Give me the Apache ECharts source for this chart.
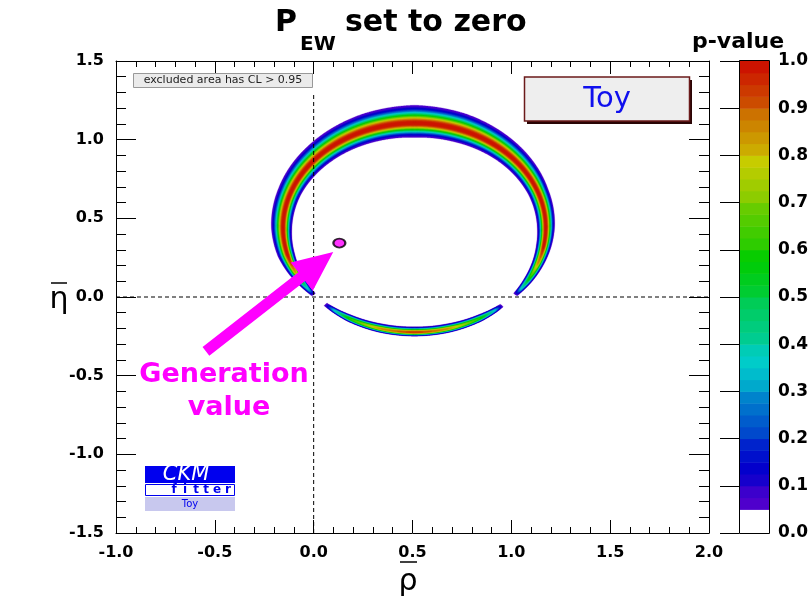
<!DOCTYPE html>
<html><head><meta charset="utf-8">
<script src="https://cdn.jsdelivr.net/npm/echarts@6/dist/echarts.min.js"></script>
<style>html,body{margin:0;padding:0;background:#fff}#c{width:812px;height:602px}</style>
</head><body><div id="c"></div>
<script>
// ---- data ----
const xTickRange = [-1.0, 2.0];
const yTickRange = [-1.5, 1.5];
const colorbarTicks = [0.0, 0.1, 0.2, 0.3, 0.4, 0.5, 0.6, 0.7, 0.8, 0.9, 1.0];
// contour levels of the p-value map (below 0.05 is excluded / white)
const pLevels = [0.050,0.075,0.100,0.125,0.150,0.175,0.200,0.225,0.250,0.275,0.300,0.325,0.350,0.375,0.400,0.425,0.450,0.475,0.500,
                 0.525,0.550,0.575,0.600,0.625,0.650,0.675,0.700,0.725,0.750,0.775,0.800,0.825,0.850,0.875,0.900,0.925,0.950,0.975];
// ring constraint: ridge circle (p = peak) and distances of the p=0.05 edge at several angles
const ringCenter = [0.51, 0.44];
const ringRadius = 0.664;
const ringAngle  = [-133,-128,-120,-105,-90,-75,-60,-52,-48,-44,-40,-36,-30,-20,-10,0,20,45,70,90,110,135,160,180,195,205,212,217,220,224,227];
const ringPeak   = [0.04,0.35,0.6,0.85,0.95,0.85,0.6,0.35,0.04,0,0.04,0.35,0.55,0.85,1,1,1,1,1,1,1,1,1,1,1,0.85,0.5,0.3,0.04,0,0.04];
const ringOuterW = [0.010,0.014,0.020,0.024,0.025,0.024,0.020,0.014,0.010,0.010,0.012,0.016,0.022,0.030,0.038,0.045,0.055,0.080,0.105,0.115,0.105,0.085,0.068,0.060,0.050,0.036,0.024,0.016,0.012,0.010,0.010];
const ringInnerW = [0.012,0.016,0.024,0.032,0.035,0.032,0.024,0.016,0.012,0.010,0.012,0.016,0.022,0.030,0.038,0.043,0.050,0.065,0.082,0.090,0.082,0.068,0.052,0.044,0.036,0.028,0.020,0.014,0.012,0.010,0.012];
const generationPoint = [0.13, 0.343];
const arrowTail = [-0.545, -0.346];
const arrowTip = [0.099, 0.286];

// ---- ROOT-like palette (style) ----
function hls(h) {
  const l = 0.4, s = 1;
  const c = (1 - Math.abs(2*l - 1)) * s, hp = h / 60, x = c * (1 - Math.abs(hp % 2 - 1));
  let r=0,g=0,b=0;
  if (hp < 1) {r=c;g=x;} else if (hp < 2) {r=x;g=c;} else if (hp < 3) {g=c;b=x;}
  else if (hp < 4) {g=x;b=c;} else if (hp < 5) {r=x;b=c;} else {r=c;b=x;}
  const m = l - c/2;
  const f = v => Math.round((v + m) * 255);
  return 'rgb(' + f(r) + ',' + f(g) + ',' + f(b) + ')';
}
const palette = [];
for (let i = 0; i < 50; i++) palette.push(hls(280 - (i + 1) * 5.6));
function bandColor(k) { return palette[Math.min(49, Math.floor(k * 1.25 + 0.01))]; } // band k: [0.025k, 0.025(k+1)]

function interp(arr, t) {
  for (let k = 0; k < ringAngle.length - 1; k++) {
    const a0 = ringAngle[k], a1 = ringAngle[k + 1];
    if (t >= a0 && t <= a1) { const u = (t - a0) / (a1 - a0); return arr[k] + u * (arr[k + 1] - arr[k]); }
  }
  return arr[arr.length - 1];
}
function ringPoint(api, th, d) {
  const r = ringRadius + d, rad = th * Math.PI / 180;
  return api.coord([ringCenter[0] + r * Math.cos(rad), ringCenter[1] + r * Math.sin(rad)]);
}

const chart = echarts.init(document.getElementById('c'), null, {renderer: 'canvas'});
const FONT = 'DejaVu Sans';
const tickLab = {color: '#000', fontFamily: FONT, fontWeight: 'bold', fontSize: 16};

function ringRender(params, api) {
  const L = api.value(0), idx = api.value(1);
  const color = bandColor(idx + 2);
  const step = 0.25;
  const t0 = ringAngle[0], t1 = ringAngle[ringAngle.length - 1];
  const children = [];
  let run = null, prevT = null, prevP = null;
  const makePoly = (run) => {
    const pts = [];
    run.forEach(r => pts.push(ringPoint(api, r[0], r[1])));
    for (let i = run.length - 1; i >= 0; i--) pts.push(ringPoint(api, run[i][0], -run[i][2]));
    return {type: 'polygon', shape: {points: pts}, style: {fill: color, stroke: color, lineWidth: 0.3}};
  };
  for (let t = t0; t <= t1 + 1e-9; t += step) {
    const P = interp(ringPeak, t);
    if (P > L) {
      if (!run) {
        run = [];
        if (prevT !== null) { const tc = prevT + (L - prevP) / (P - prevP) * (t - prevT); run.push([tc, 0, 0]); }
      }
      const f = Math.sqrt(Math.log(P / L) / Math.log(P / 0.05));
      run.push([t, f * interp(ringOuterW, t), f * interp(ringInnerW, t)]);
    } else if (run) {
      const tc = prevT + (prevP - L) / (prevP - P) * (t - prevT);
      run.push([tc, 0, 0]);
      children.push(makePoly(run));
      run = null;
    }
    prevT = t; prevP = P;
  }
  if (run) children.push(makePoly(run));
  return {type: 'group', children};
}

function arrowRender(params, api) {
  const a = api.coord([api.value(0), api.value(1)]);
  const b = api.coord([api.value(2), api.value(3)]);
  const dx = b[0] - a[0], dy = b[1] - a[1], len = Math.hypot(dx, dy);
  const ux = dx / len, uy = dy / len, nx = -uy, ny = ux;
  const hl = 40, hw = 18, sw = 5.5;
  const bx = b[0] - ux * hl, by = b[1] - uy * hl;
  const pts = [
    [a[0] + nx * sw, a[1] + ny * sw], [bx + nx * sw, by + ny * sw], [bx + nx * hw, by + ny * hw],
    b, [bx - nx * hw, by - ny * hw], [bx - nx * sw, by - ny * sw], [a[0] - nx * sw, a[1] - ny * sw]
  ];
  return {type: 'polygon', shape: {points: pts}, style: {fill: '#ff00ff'}};
}

function cbarRender(params, api) {
  const lo = api.value(0), hi = api.value(1), k = api.value(2);
  const p0 = api.coord([0, hi]), p1 = api.coord([1, lo]);
  return {type: 'rect', shape: {x: p0[0], y: p0[1], width: p1[0] - p0[0], height: p1[1] - p0[1] + 0.5},
          style: {fill: k === 0 ? '#ffffff' : bandColor(k), stroke: null}};
}

const cbarData = [[0, 0.05, 0]].concat(pLevels.map((l, i) => [l, i === pLevels.length - 1 ? 1.0 : pLevels[i + 1], i + 2]));

const axisCommon = {
  type: 'value', splitLine: {show: false},
  axisLine: {show: true, onZero: false, lineStyle: {color: '#000', width: 1}},
};

const option = {
  backgroundColor: '#fff',
  animation: false,
  grid: [
    {left: 116, right: 103, top: 61, bottom: 69},
    {left: 739, width: 30, top: 61, bottom: 69}
  ],
  xAxis: [
    Object.assign({}, axisCommon, {gridIndex: 0, position: 'bottom', min: xTickRange[0], max: xTickRange[1], interval: 0.5,
      axisTick: {inside: true, length: 13, lineStyle: {color: '#000'}},
      minorTick: {show: true, splitNumber: 5, length: 6, lineStyle: {color: '#000'}},
      axisLabel: Object.assign({margin: 12, formatter: v => v.toFixed(1)}, tickLab)}),
    Object.assign({}, axisCommon, {gridIndex: 0, position: 'top', min: xTickRange[0], max: xTickRange[1], interval: 0.5,
      axisTick: {inside: true, length: 13, lineStyle: {color: '#000'}},
      minorTick: {show: true, splitNumber: 5, length: 6, lineStyle: {color: '#000'}},
      axisLabel: {show: false}}),
    {type: 'value', gridIndex: 1, min: 0, max: 1, show: false}
  ],
  yAxis: [
    Object.assign({}, axisCommon, {gridIndex: 0, position: 'left', min: yTickRange[0], max: yTickRange[1], interval: 0.5,
      axisTick: {inside: true, length: 20, lineStyle: {color: '#000'}},
      minorTick: {show: true, splitNumber: 5, length: 10, lineStyle: {color: '#000'}},
      axisLabel: Object.assign({margin: 12, formatter: v => v.toFixed(1)}, tickLab)}),
    Object.assign({}, axisCommon, {gridIndex: 0, position: 'right', min: yTickRange[0], max: yTickRange[1], interval: 0.5,
      axisTick: {inside: true, length: 20, lineStyle: {color: '#000'}},
      minorTick: {show: true, splitNumber: 5, length: 10, lineStyle: {color: '#000'}},
      axisLabel: {show: false}}),
    {type: 'value', gridIndex: 1, position: 'right', min: colorbarTicks[0], max: colorbarTicks[colorbarTicks.length - 1], interval: 0.1,
      splitLine: {show: false},
      axisLine: {show: true, lineStyle: {color: '#000'}},
      axisTick: {show: true, inside: true, length: 19, lineStyle: {color: '#000'}},
      axisLabel: Object.assign({margin: 9, formatter: v => v.toFixed(1)}, tickLab, {fontSize: 17})}
  ],
  series: [
    {type: 'custom', xAxisIndex: 0, yAxisIndex: 0, z: 2, renderItem: ringRender,
     encode: {x: 0, y: -1}, data: pLevels.map((l, i) => [l, i]), silent: true},
    {type: 'line', xAxisIndex: 0, yAxisIndex: 0, z: 3, symbol: 'none', silent: true,
     lineStyle: {color: '#000', width: 1, type: [4, 3]}, data: [[0, -1.5], [0, 1.3]]},
    {type: 'line', xAxisIndex: 0, yAxisIndex: 0, z: 3, symbol: 'none', silent: true,
     lineStyle: {color: '#000', width: 1, type: [4, 3]}, data: [[-1, 0], [2, 0]]},
    {type: 'custom', xAxisIndex: 0, yAxisIndex: 0, z: 4, renderItem: arrowRender, silent: true,
     data: [[arrowTail[0], arrowTail[1], arrowTip[0], arrowTip[1]]]},
    {type: 'scatter', xAxisIndex: 0, yAxisIndex: 0, z: 5, symbol: 'circle', symbolSize: [12, 9], silent: true,
     itemStyle: {color: '#ff00ff', borderColor: '#000', borderWidth: 2}, data: [generationPoint]},
    {type: 'custom', xAxisIndex: 2, yAxisIndex: 2, z: 2, renderItem: cbarRender, silent: true,
     encode: {x: -1, y: 0}, data: cbarData}
  ],
  graphic: [
    {type: 'rect', z: 100, shape: {x: 739.5, y: 60.5, width: 30, height: 473}, style: {fill: null, stroke: '#000', lineWidth: 1}},
    // title
    {type: 'text', z: 100, style: {text: 'P', x: 275, y: 23, font: 'bold 30px "DejaVu Sans"', fill: '#000', textAlign: 'left', textVerticalAlign: 'middle'}},
    {type: 'text', z: 100, style: {text: 'EW', x: 300, y: 44.5, font: 'bold 20px "DejaVu Sans"', fill: '#000', textAlign: 'left', textVerticalAlign: 'middle'}},
    {type: 'text', z: 100, style: {text: 'set to zero', x: 345, y: 23, font: 'bold 30px "DejaVu Sans"', fill: '#000', textAlign: 'left', textVerticalAlign: 'middle'}},
    {type: 'text', z: 100, style: {text: 'p-value', x: 738, y: 42, font: 'bold 22px "DejaVu Sans"', fill: '#000', textAlign: 'center', textVerticalAlign: 'middle'}},
    // axis names
    {type: 'text', z: 100, style: {text: 'ρ', x: 408, y: 582, font: '30px "DejaVu Sans"', fill: '#000', textAlign: 'center', textVerticalAlign: 'middle'}},
    {type: 'line', z: 100, shape: {x1: 400, y1: 562, x2: 417, y2: 562}, style: {stroke: '#000', lineWidth: 1.5}},
    {type: 'text', z: 100, style: {text: 'η', x: 59, y: 300, font: '30px "DejaVu Sans"', fill: '#000', textAlign: 'center', textVerticalAlign: 'middle'}},
    {type: 'line', z: 100, shape: {x1: 51, y1: 283, x2: 67, y2: 283}, style: {stroke: '#000', lineWidth: 1.5}},
    // excluded box
    {type: 'rect', z: 100, shape: {x: 133.5, y: 73.5, width: 179, height: 14}, style: {fill: '#ebebeb', stroke: '#999', lineWidth: 1}},
    {type: 'text', z: 101, style: {text: 'excluded area has CL > 0.95', x: 223, y: 80.5, font: '11px "DejaVu Sans"', fill: '#222', textAlign: 'center', textVerticalAlign: 'middle'}},
    // Toy box
    {type: 'rect', z: 100, shape: {x: 527, y: 80, width: 165, height: 44}, style: {fill: '#2a0505'}},
    {type: 'rect', z: 101, shape: {x: 524.5, y: 77, width: 165, height: 44}, style: {fill: '#eeeeee', stroke: '#6b1a1a', lineWidth: 1.5}},
    {type: 'text', z: 102, style: {text: 'Toy', x: 607, y: 99, font: '29px "DejaVu Sans"', fill: '#1010ee', textAlign: 'center', textVerticalAlign: 'middle'}},
    // Generation value
    {type: 'text', z: 100, style: {text: 'Generation', x: 224, y: 375, font: 'bold 27px "DejaVu Sans"', fill: '#ff00ff', textAlign: 'center', textVerticalAlign: 'middle'}},
    {type: 'text', z: 100, style: {text: 'value', x: 229, y: 408, font: 'bold 27px "DejaVu Sans"', fill: '#ff00ff', textAlign: 'center', textVerticalAlign: 'middle'}},
    // CKMfitter logo
    {type: 'rect', z: 100, shape: {x: 145, y: 466, width: 90, height: 17}, style: {fill: '#0000ee'}},
    {type: 'text', z: 101, style: {text: 'CKM', x: 186, y: 475, font: 'italic 21px "DejaVu Sans"', fill: '#fff', textAlign: 'center', textVerticalAlign: 'middle'}},
    {type: 'rect', z: 100, shape: {x: 145.5, y: 484.5, width: 89, height: 11}, style: {fill: '#fff', stroke: '#0000ee', lineWidth: 1}},
    {type: 'text', z: 101, style: {text: 'f', x: 174, y: 490, font: 'bold 12px "DejaVu Sans"', fill: '#0000ee', textAlign: 'center', textVerticalAlign: 'middle'}},
    {type: 'text', z: 101, style: {text: 'i', x: 185, y: 490, font: 'bold 12px "DejaVu Sans"', fill: '#0000ee', textAlign: 'center', textVerticalAlign: 'middle'}},
    {type: 'text', z: 101, style: {text: 't', x: 196, y: 490, font: 'bold 12px "DejaVu Sans"', fill: '#0000ee', textAlign: 'center', textVerticalAlign: 'middle'}},
    {type: 'text', z: 101, style: {text: 't', x: 206, y: 490, font: 'bold 12px "DejaVu Sans"', fill: '#0000ee', textAlign: 'center', textVerticalAlign: 'middle'}},
    {type: 'text', z: 101, style: {text: 'e', x: 217, y: 490, font: 'bold 12px "DejaVu Sans"', fill: '#0000ee', textAlign: 'center', textVerticalAlign: 'middle'}},
    {type: 'text', z: 101, style: {text: 'r', x: 228, y: 490, font: 'bold 12px "DejaVu Sans"', fill: '#0000ee', textAlign: 'center', textVerticalAlign: 'middle'}},
    {type: 'rect', z: 100, shape: {x: 145, y: 497, width: 90, height: 14}, style: {fill: '#c8c8ee'}},
    {type: 'text', z: 101, style: {text: 'Toy', x: 190, y: 504, font: '10px "DejaVu Sans"', fill: '#0000ee', textAlign: 'center', textVerticalAlign: 'middle'}}
  ]
};
chart.setOption(option);
</script></body></html>
